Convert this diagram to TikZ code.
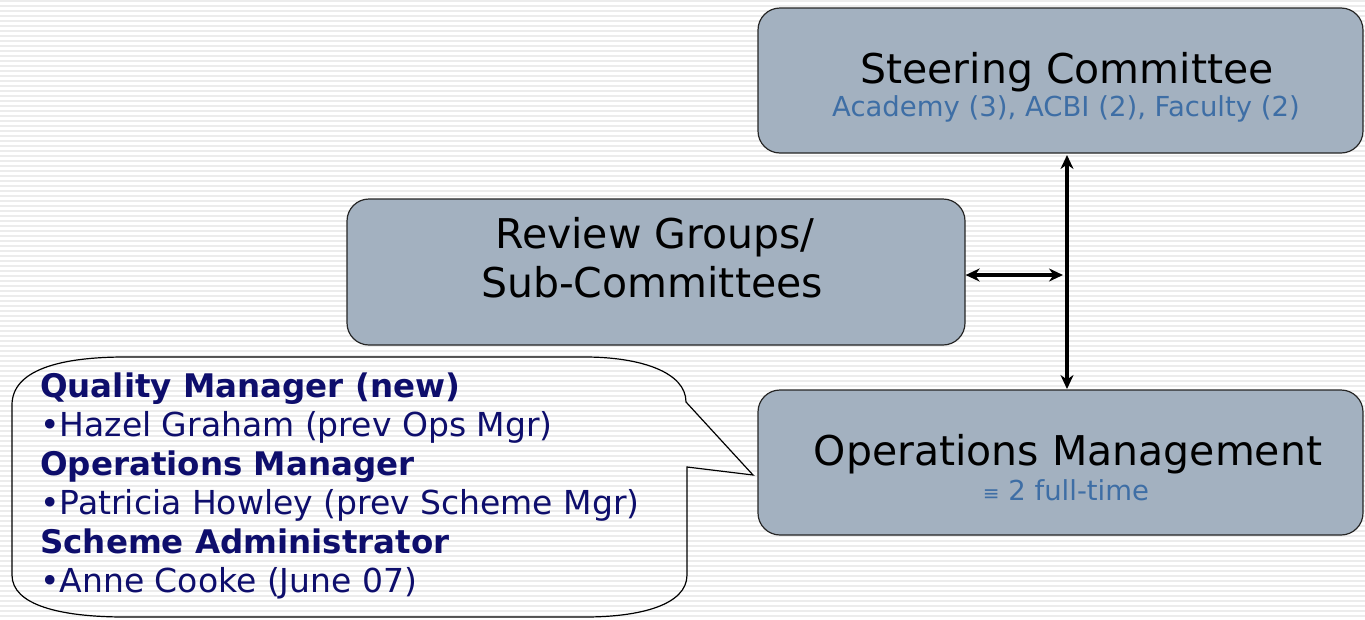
\documentclass[tikz,border=0pt]{standalone}
\usepackage{fontspec}
\setmainfont{DejaVu Sans}
\usetikzlibrary{arrows.meta}
\definecolor{boxfill}{RGB}{163,177,192}
\definecolor{subblue}{RGB}{62,110,165}
\definecolor{navy}{RGB}{14,14,108}
\definecolor{stripe}{RGB}{236,236,236}
\begin{document}
\begin{tikzpicture}[x=1pt,y=-1pt,
  box/.style={draw=black!85, line width=1.2pt, fill=boxfill, rounded corners=22pt, inner sep=0pt},
  titletext/.style={anchor=base, font=\fontsize{41}{49}\selectfont, text=black, inner sep=0pt},
  subtext/.style={anchor=base, font=\fontsize{27.5}{32}\selectfont, text=subblue, inner sep=0pt},
  calltext/.style={anchor=base west, font=\fontsize{33}{39}\selectfont, text=navy, inner sep=0pt},
  callbold/.style={calltext, font=\fontsize{32.5}{39}\selectfont\bfseries},
  conn/.style={line width=3.2pt, {Stealth[length=14pt,width=13pt]}-{Stealth[length=14pt,width=13pt]}}
]
\useasboundingbox (0,0) rectangle (1365,619);
\fill[white] (0,0) rectangle (1365,619);
\foreach \yy in {0,5,...,615} \fill[stripe] (0,\yy) rectangle (1365,\yy+2.2);

% boxes
\node[box, minimum width=605pt, minimum height=145pt] (steer) at (1060.5,80.5) {};
\node[box, minimum width=618pt, minimum height=146pt] (review) at (656,272) {};
\node[box, minimum width=605pt, minimum height=145pt] (ops) at (1060.5,462.5) {};

% texts
\node[titletext] (steerT) at (1067,83) {Steering Committee};
\node[subtext] (steerS) at (1066,116) {Academy (3), ACBI (2), Faculty (2)};
\node[titletext] (revT1) at (655,248) {Review Groups/};
\node[titletext] (revT2) at (652,297) {Sub-Committees};
\node[titletext] (opsT) at (1068,465) {Operations Management};
\node[subtext] (opsS) at (1066,500) {{\fontsize{20}{24}\selectfont ≡} 2 full-time};

% connectors
\coordinate (vtop) at (1067,155);
\coordinate (vbot) at (1067,389);
\draw[conn] (vtop) -- (vbot);
\coordinate (hend) at (1063,275);
\draw[conn] (review.east |- hend) -- (hend);

% callout
\draw[line width=1.2pt]
  (12,405) .. controls (12,370) and (60,357) .. (125,357)
  -- (585,357) .. controls (640,357) and (686,372) .. (686,402)
  -- (753,475) -- (687,467)
  -- (687,575) .. controls (687,605) and (640,617) .. (585,617)
  -- (125,617) .. controls (60,617) and (12,605) .. (12,575) -- cycle;

\node[callbold] (q1) at (40,397) {Quality Manager (new)};
\node[calltext] (q2) at (40,436) {•Hazel Graham (prev Ops Mgr)};
\node[callbold] (q3) at (40,475) {Operations Manager};
\node[calltext] (q4) at (40,514) {•Patricia Howley (prev Scheme Mgr)};
\node[callbold] (q5) at (40,553) {Scheme Administrator};
\node[calltext] (q6) at (40,592) {•Anne Cooke (June 07)};
\end{tikzpicture}
\end{document}
